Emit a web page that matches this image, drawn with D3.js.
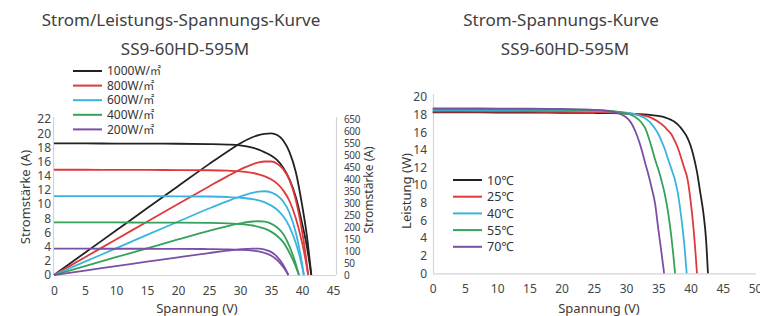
<!DOCTYPE html>
<html><head><meta charset="utf-8">
<script src="https://cdn.jsdelivr.net/npm/d3@7"></script>
<style>
html,body{margin:0;padding:0;background:#fff;}
svg{display:block;font-family:"Noto Sans","Open Sans",sans-serif;}
</style></head>
<body>
<svg id="c" width="760" height="316"></svg>
<script>
// ---------- DATA: left chart (irradiance) ----------
const irrValues = ["1000","800","600","400","200"];
const irrUnit = "W/㎡";
const irrColors = ["#222222","#e0393b","#3ab4de","#35a15a","#7a4fa6"];
const iv1000V = [0,5,10,15,20,25,28,30,32,33,34,35,36,37,38,39,40,40.8,41.5];
const iv1000I = [18.55,18.55,18.54,18.53,18.51,18.47,18.4,18.28,17.95,17.68,17.3,16.85,16.2,15.1,13.45,11.0,7.35,3.95,0];
const pw1000P = [0,93,185,278,370,462,515,548,574,583,588,590,583,559,511,429,294,161,0];
const iv800V = [0,5,10,15,20,25,28,30,32,33,34,35,36,37,38,39,40,40.5,41.0];
const iv800I = [14.84,14.84,14.83,14.82,14.8,14.77,14.71,14.62,14.4,14.2,13.92,13.5,12.88,11.9,10.4,8.0,4.6,2.5,0];
const pw800P = [0,74,148,222,296,369,412,439,461,469,473,473,464,440,395,312,184,101,0];
const iv600V = [0,5,10,15,20,25,28,30,32,33,34,35,36,37,38,39,39.8,40.3];
const iv600I = [11.13,11.13,11.12,11.11,11.1,11.07,11.0,10.9,10.7,10.52,10.25,9.82,9.2,8.25,6.8,4.5,2.0,0];
const pw600P = [0,56,111,167,222,277,308,327,342,347,349,344,331,305,258,176,80,0];
const iv400V = [0,5,10,15,20,25,28,30,32,33,34,35,36,37,38,38.8,39.5];
const iv400I = [7.42,7.42,7.41,7.4,7.39,7.35,7.28,7.18,6.98,6.8,6.53,6.12,5.5,4.6,3.1,1.6,0];
const pw400P = [0,37,74,111,148,184,204,215,223,224,222,214,198,170,118,62,0];
const iv200V = [0,5,10,15,20,25,28,30,32,33,34,35,36,37,37.8];
const iv200I = [3.71,3.71,3.7,3.7,3.69,3.66,3.62,3.56,3.44,3.32,3.1,2.75,2.1,1.1,0];
const pw200P = [0,18.6,37,55.5,73.8,91.5,101.4,106.8,110,109.6,105.4,96.3,75.6,40.7,0];
const leftXTicks = [0,5,10,15,20,25,30,35,40,45];
const leftYTicks = [0,2,4,6,8,10,12,14,16,18,20,22];
const rightYTicks = [0,50,100,150,200,250,300,350,400,450,500,550,600,650];

// ---------- DATA: right chart (temperature) ----------
const tempLabels = ["10℃","25℃","40℃","55℃","70℃"];
const tempColors = ["#222222","#e0393b","#3ab4de","#35a15a","#7a4fa6"];
const t10V = [0,5,10,15,20,25,28,30,32,34,35,36,37,37.5,38,38.5,39,39.5,40,40.5,41,41.5,42,42.4,42.7];
const t10I = [18.25,18.25,18.24,18.23,18.21,18.19,18.16,18.12,18.06,17.95,17.85,17.7,17.4,17.2,16.9,16.5,16.0,15.4,14.5,13.2,11.5,9.2,6.8,3.9,0];
const t25V = [0,5,10,15,20,25,28,30,32,33,34,35,36,36.5,37,37.5,38,38.5,39,39.5,40,40.5,41.0];
const t25I = [18.35,18.35,18.34,18.33,18.31,18.28,18.23,18.15,18.0,17.85,17.6,17.2,16.6,16.2,15.8,15.1,14.3,13.2,12.0,10.8,8.3,4.8,0];
const t40V = [0,5,10,15,20,25,28,30,31,32,33,34,34.5,35,35.5,36,36.5,37,37.5,38,38.5,39,39.4];
const t40I = [18.5,18.5,18.49,18.48,18.46,18.42,18.35,18.22,18.1,17.9,17.55,16.9,16.4,15.8,15.0,14.1,13.0,11.9,10.8,9.2,6.7,3.5,0];
const t55V = [0,5,10,15,20,25,27,28,29,30,31,32,32.5,33,33.5,34,34.5,35,35.5,36,36.5,37,37.3,37.6];
const t55I = [18.6,18.6,18.59,18.58,18.56,18.52,18.46,18.4,18.3,18.15,17.9,17.4,17.0,16.4,15.4,14.2,12.9,11.8,10.5,9.0,7.0,4.3,2.3,0];
const t70V = [0,5,10,15,20,23,25,26,27,28,29,30,30.5,31,31.5,32,32.5,33,33.5,34,34.5,35,35.5,35.9];
const t70I = [18.7,18.7,18.69,18.67,18.65,18.6,18.55,18.5,18.42,18.3,18.1,17.7,17.35,16.8,16.0,15.0,13.8,12.4,11.1,9.6,7.9,5.0,2.3,0];
const rXTicks = [0,5,10,15,20,25,30,35,40,45,50];
const rYTicks = [0,2,4,6,8,10,12,14,16,18,20];

// ---------- build series ----------
const zip = (a,b) => a.map((v,i)=>[v,b[i]]);
const ivSeries = [zip(iv1000V,iv1000I),zip(iv800V,iv800I),zip(iv600V,iv600I),zip(iv400V,iv400I),zip(iv200V,iv200I)];
const pwSeries = [zip(iv1000V,pw1000P),zip(iv800V,pw800P),zip(iv600V,pw600P),zip(iv400V,pw400P),zip(iv200V,pw200P)];
const tSeries = [zip(t10V,t10I),zip(t25V,t25I),zip(t40V,t40I),zip(t55V,t55I),zip(t70V,t70I)];

const svg = d3.select("#c");
const axisColor = "#d4d4d4";
const txt = "#3a3a3a";

function styleAxis(g, fs){
  g.select(".domain").attr("stroke", axisColor).attr("stroke-width",1.2);
  g.selectAll(".tick line").remove();
  g.selectAll(".tick text").attr("font-size", fs).attr("font-family","Noto Sans").attr("fill","#444");
}

// ===== LEFT CHART =====
const xL = d3.scaleLinear().domain([0,45]).range([54,333]);
const yL = d3.scaleLinear().domain([0,22]).range([275,119]);
const yP = d3.scaleLinear().domain([0,650]).range([275,119]);

svg.append("text").attr("x",181).attr("y",26).attr("text-anchor","middle")
  .attr("font-size",17).attr("fill","#404040").text("Strom/Leistungs-Spannungs-Kurve");
svg.append("text").attr("x",185).attr("y",55).attr("text-anchor","middle")
  .attr("font-size",17).attr("fill","#404040").text("SS9-60HD-595M");

const gxL = svg.append("g").attr("transform","translate(0,275)")
  .call(d3.axisBottom(xL).tickValues(leftXTicks).tickSize(0).tickSizeOuter(0).tickPadding(11));
styleAxis(gxL, 12);
gxL.select(".domain").attr("d","M54,0.5H336");
const gyL = svg.append("g").attr("transform","translate(53,0)")
  .call(d3.axisLeft(yL).tickValues(leftYTicks).tickSize(0).tickSizeOuter(0).tickPadding(2));
styleAxis(gyL, 12);
gyL.select(".domain").attr("d","M0.5,117V275");
const gyR = svg.append("g").attr("transform","translate(336,0)")
  .call(d3.axisRight(yP).tickValues(rightYTicks).tickSize(0).tickSizeOuter(0).tickPadding(8));
styleAxis(gyR, 10);
gyR.selectAll(".tick text").attr("letter-spacing",-0.4);
gyR.select(".domain").attr("d","M0.5,117V275");

svg.append("text").attr("transform","translate(30,197) rotate(-90)").attr("text-anchor","middle")
  .attr("font-size",13).attr("fill",txt).text("Stromstärke (A)");
svg.append("text").attr("transform","translate(373,190) rotate(-90)").attr("text-anchor","middle")
  .attr("font-size",12).attr("fill",txt).text("Stromstärke (A)");
svg.append("text").attr("x",197).attr("y",313).attr("text-anchor","middle")
  .attr("font-size",13).attr("fill",txt).text("Spannung (V)");

const lineIV = d3.line().x(d=>xL(d[0])).y(d=>yL(d[1])).curve(d3.curveMonotoneX);
const linePW = d3.line().x(d=>xL(d[0])).y(d=>yP(d[1])).curve(d3.curveMonotoneX);
ivSeries.forEach((s,i)=>{
  svg.append("path").attr("d",lineIV(s)).attr("fill","none").attr("stroke",irrColors[i]).attr("stroke-width",1.8);
  svg.append("path").attr("d",linePW(pwSeries[i])).attr("fill","none").attr("stroke",irrColors[i]).attr("stroke-width",1.8);
});

const legL = svg.append("g");
irrValues.forEach((t,i)=>{
  const y = 71 + i*14.6;
  legL.append("line").attr("x1",73).attr("x2",102).attr("y1",y).attr("y2",y)
    .attr("stroke",irrColors[i]).attr("stroke-width",2);
  const tx = legL.append("text").attr("x",107).attr("y",y+4.2).attr("font-size",12).attr("fill","#333");
  tx.append("tspan").text(t + "W/");
  tx.append("tspan").attr("font-family","Noto Sans CJK SC").attr("font-size",11).text(irrUnit.slice(2));
});

// ===== RIGHT CHART =====
const xR = d3.scaleLinear().domain([0,50]).range([432.7,755]);
const yR = d3.scaleLinear().domain([0,20]).range([273.3,97]);

svg.append("text").attr("x",561).attr("y",26).attr("text-anchor","middle")
  .attr("font-size",17).attr("fill","#404040").text("Strom-Spannungs-Kurve");
svg.append("text").attr("x",565).attr("y",55).attr("text-anchor","middle")
  .attr("font-size",17).attr("fill","#404040").text("SS9-60HD-595M");

const gxR = svg.append("g").attr("transform","translate(0,273.3)")
  .call(d3.axisBottom(xR).tickValues(rXTicks).tickSize(0).tickSizeOuter(0).tickPadding(11));
styleAxis(gxR, 12);
gxR.select(".domain").attr("d","M433,0.5H756");
const gyR2 = svg.append("g").attr("transform","translate(433,0)")
  .call(d3.axisLeft(yR).tickValues(rYTicks).tickSize(0).tickSizeOuter(0).tickPadding(6));
styleAxis(gyR2, 12);
gyR2.select(".domain").attr("d","M0.5,94V273.3");

svg.append("text").attr("transform","translate(411,191) rotate(-90)").attr("text-anchor","middle")
  .attr("font-size",13).attr("fill",txt).text("Leistung (W)");
svg.append("text").attr("x",599).attr("y",313).attr("text-anchor","middle")
  .attr("font-size",13).attr("fill",txt).text("Spannung (V)");

const lineT = d3.line().x(d=>xR(d[0])).y(d=>yR(d[1])).curve(d3.curveMonotoneX);
tSeries.forEach((s,i)=>{
  svg.append("path").attr("d",lineT(s)).attr("fill","none").attr("stroke",tempColors[i]).attr("stroke-width",1.8);
});

const legR = svg.append("g");
tempLabels.forEach((t,i)=>{
  const y = 180 + i*16.7;
  legR.append("line").attr("x1",453).attr("x2",482).attr("y1",y).attr("y2",y)
    .attr("stroke",tempColors[i]).attr("stroke-width",2);
  legR.append("text").attr("x",487).attr("y",y+4.5).attr("font-size",12.5).attr("fill","#333").text(t);
});
</script>
</body></html>
